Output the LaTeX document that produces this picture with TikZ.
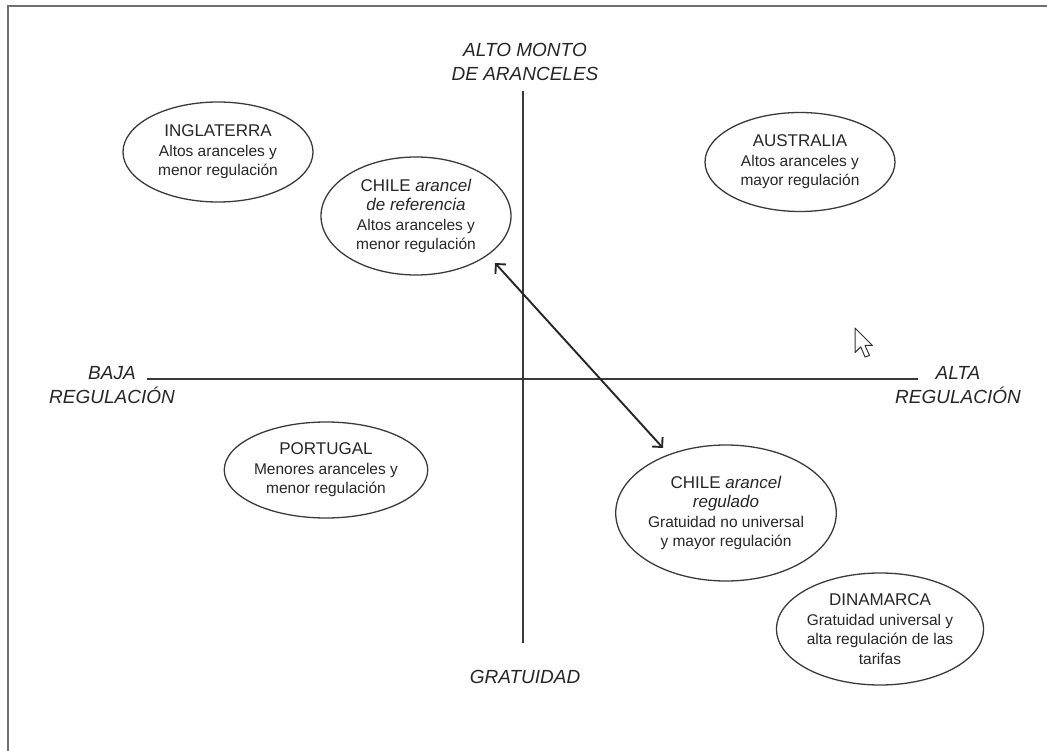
\documentclass[tikz,border=0pt]{standalone}
\usepackage{fontspec}
\setmainfont{Liberation Sans}
\usetikzlibrary{shapes.geometric,arrows.meta}
\definecolor{linec}{HTML}{3A3A3A}
\definecolor{txt}{HTML}{262626}
\definecolor{framec}{HTML}{707070}
\newcommand\cttl[1]{{\fontsize{17}{21}\selectfont #1}}
\begin{document}
\begin{tikzpicture}[x=1pt,y=-1pt,
  country/.style={ellipse, draw=linec, line width=1.3pt, inner sep=0pt, align=center, text=txt,
    font=\fontsize{15.5}{19.5}\selectfont},
  axislabel/.style={align=center, text=txt, font=\fontsize{19}{24}\selectfont\itshape},
  axisline/.style={draw=linec, line width=1.5pt},
  dblarrow/.style={draw=black!85, line width=1.9pt,
    {Straight Barb[length=7pt,width=14pt]}-{Straight Barb[length=7pt,width=14pt]}}]
\useasboundingbox (0,0) rectangle (1047,751);
% frame
\draw[framec, line width=1.5pt] (8,751) -- (8,6) -- (1047,6);
% axes
\coordinate (vtop) at (523,91);
\coordinate (vbot) at (523,643);
\coordinate (hl) at (147,379);
\coordinate (hr) at (918,379);
\draw[axisline] (vtop) -- (vbot);
\draw[axisline] (hl) -- (hr);
% axis labels
\node[axislabel] (alto) at (525,62) {ALTO MONTO\\DE ARANCELES};
\node[axislabel] (baja) at (112,385) {BAJA\\REGULACI\'ON};
\node[axislabel] (alta) at (958,385) {ALTA\\REGULACI\'ON};
\node[axislabel] (grat) at (525,677) {GRATUIDAD};
% countries
\node[country, minimum width=190pt, minimum height=100pt] (ing) at (218,152)
  {\cttl{INGLATERRA}\\Altos aranceles y\\menor regulaci\'on};
\node[country, minimum width=190pt, minimum height=118pt] (chref) at (416,216)
  {\cttl{CHILE \textit{arancel}}\\\cttl{\textit{de referencia}}\\Altos aranceles y\\menor regulaci\'on};
\node[country, minimum width=190pt, minimum height=99pt] (aus) at (800,162)
  {\cttl{AUSTRALIA}\\Altos aranceles y\\mayor regulaci\'on};
\node[country, minimum width=188pt, minimum height=96pt] (por) at (326,470)
  {\cttl{PORTUGAL}\\Menores aranceles y\\menor regulaci\'on};
\node[country, minimum width=188pt, minimum height=136pt] (chreg) at (726,513)
  {\cttl{CHILE \textit{arancel}}\\\cttl{\textit{regulado}}\\Gratuidad no universal\\y mayor regulaci\'on};
\node[country, minimum width=189pt, minimum height=112pt] (din) at (880,629)
  {\cttl{DINAMARCA}\\Gratuidad universal y\\alta regulaci\'on de las\\tarifas};
% arrow
\coordinate (arrA) at (495,263);
\coordinate (arrB) at (663,448);
\draw[dblarrow] (arrA) -- (arrB);
% cursor
\draw[fill=white, draw=black!80, line width=1pt, line join=round]
  (855,328) -- ++(0,24.6) -- ++(5.8,-5.7) -- ++(4.2,10.1) -- ++(4.5,-1.5)
  -- ++(-4.5,-10.1) -- ++(7.4,0) -- cycle;
\end{tikzpicture}
\end{document}
